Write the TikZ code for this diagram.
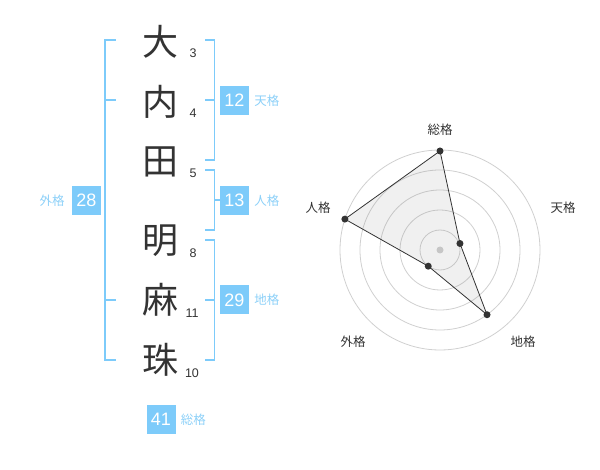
\documentclass[tikz,border=0pt]{standalone}
\usepackage{fontspec}
\setmainfont{Liberation Sans}
\newfontfamily\jp{Noto Sans CJK JP}
\usepackage{tikz}
\usetikzlibrary{positioning}
\definecolor{skyblue}{RGB}{125,203,250}
\definecolor{palesky}{RGB}{140,208,248}
\definecolor{inkgray}{RGB}{51,51,51}
\definecolor{ringgray}{RGB}{208,208,208}

\tikzset{
  kanji/.style={inner sep=0pt, text=inkgray, font=\jp\fontsize{36}{36}\selectfont},
  stroke/.style={inner sep=0pt, text=inkgray, font=\fontsize{12.5}{13}\selectfont},
  score/.style={fill=skyblue, text=white, minimum size=29pt, inner sep=0pt, font=\fontsize{18}{18}\selectfont},
  kaku/.style={inner sep=0pt, text=palesky, font=\jp\fontsize{12.5}{13}\selectfont},
  axis/.style={inner sep=0pt, text=inkgray, font=\jp\fontsize{12.5}{13}\selectfont},
  bracket/.style={draw=skyblue, line width=1.6pt},
  dot/.style={circle, fill=inkgray, inner sep=0pt, minimum size=7pt},
}

\begin{document}
\begin{tikzpicture}[x=1pt, y=-1pt]
    \useasboundingbox (0,0) rectangle (600,470);

    % name
    \node[kanji] (c1) at (160,42) {大};
    \node[kanji] (c2) at (160,102) {内};
    \node[kanji] (c3) at (160,162) {田};
    \node[kanji] (c4) at (160,241) {明};
    \node[kanji] (c5) at (160,300) {麻};
    \node[kanji] (c6) at (160,360) {珠};

    \node[stroke] (n1) at (193,53) {3};
    \node[stroke] (n2) at (193,113) {4};
    \node[stroke] (n3) at (193,173) {5};
    \node[stroke] (n4) at (193,253) {8};
    \node[stroke] (n5) at (192,313) {11};
    \node[stroke] (n6) at (192,373) {10};

    % brackets
    \draw[bracket] (115.5,40) -- (105,40) -- (105,360) -- (115.5,360);
    \draw[bracket] (105,100) -- (115.5,100);
    \draw[bracket] (105,300) -- (115.5,300);
    \draw[bracket] (205,40) -- (214.5,40) -- (214.5,160) -- (205,160);
    \draw[bracket] (205,100) -- (214.5,100);
    \draw[bracket] (205,170) -- (214.5,170) -- (214.5,230) -- (205,230);
    \draw[bracket] (214.5,200) -- (220,200);
    \draw[bracket] (205,240) -- (214.5,240) -- (214.5,360) -- (205,360);
    \draw[bracket] (205,300) -- (214.5,300);

    % scores
    \node[score] (ten) at (234.5,100.5) {12};
    \node[kaku, right=5pt of ten] (tenl) {天格};
    \node[score] (jin) at (234.5,200.5) {13};
    \node[kaku, right=5pt of jin] (jinl) {人格};
    \node[score] (chi) at (234.5,300) {29};
    \node[kaku, right=5pt of chi] (chil) {地格};
    \node[score] (gai) at (86.5,200.5) {28};
    \node[kaku, left=7pt of gai] (gail) {外格};
    \node[score] (sou) at (161,419.5) {41};
    \node[kaku, right=5pt of sou] (soul) {総格};

    % radar
    \begin{scope}[shift={(440,250)}, y=1pt]
        \foreach \r in {20,40,60,80,100}
            \draw[ringgray, line width=0.8pt] (0,0) circle (\r);
        \fill[ringgray] (0,0) circle (3.5);
        \coordinate (p1) at (90:99);
        \coordinate (p2) at (18:21);
        \coordinate (p3) at (-54:80);
        \coordinate (p4) at (234:20);
        \coordinate (p5) at (162:100);
        \draw[inkgray, line width=0.8pt, fill=gray, fill opacity=0.12]
            (p1) -- (p2) -- (p3) -- (p4) -- (p5) -- cycle;
        \foreach \p in {p1,p2,p3,p4,p5}
            \node[dot] at (\p) {};
        \node[axis] (a1) at (0,120) {総格};
        \node[axis] (a2) at (123,42) {天格};
        \node[axis] (a3) at (83,-92) {地格};
        \node[axis] (a4) at (-87,-92) {外格};
        \node[axis] (a5) at (-122,42) {人格};
    \end{scope}
\end{tikzpicture}
\end{document}
